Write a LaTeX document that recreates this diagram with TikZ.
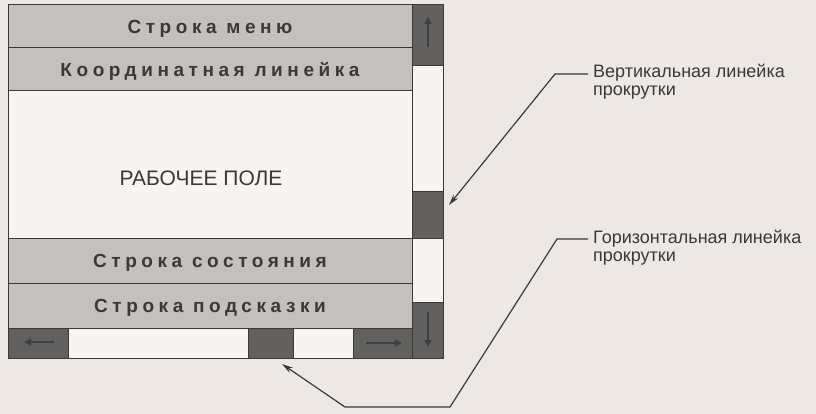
\documentclass[tikz,border=0pt]{standalone}
\usepackage{fontspec}
\setmainfont{Liberation Sans}
\newfontfamily\bandfont[LetterSpace=24]{Liberation Sans}
\usetikzlibrary{arrows.meta}
\definecolor{sb_paper}{RGB}{237, 232, 228}
\definecolor{sb_white}{RGB}{247, 244, 241}
\definecolor{sb_grey}{RGB}{194, 193, 189}
\definecolor{sb_dark}{RGB}{98, 97, 96}
\definecolor{sb_ink}{RGB}{58, 57, 56}
\tikzstyle{band}=[rectangle,fill=sb_grey,draw=sb_ink,line width=1pt,inner sep=0pt,
  minimum width=404pt,text height=14pt,text depth=0pt,text=sb_ink,
  font=\fontsize{19}{19}\bandfont\bfseries]
\tikzstyle{field}=[rectangle,fill=sb_white,draw=sb_ink,line width=1pt,inner sep=0pt]
\tikzstyle{button}=[rectangle,fill=sb_dark,draw=sb_ink,line width=1pt,inner sep=0pt]
\tikzstyle{note}=[anchor=base west,align=left,inner sep=0pt,text=sb_ink,
  font=\fontsize{18}{18}\selectfont]
\tikzstyle{pointer}=[draw=sb_ink,line width=1.2pt,-{Stealth[length=11pt,width=6pt]}]
\tikzstyle{knob}=[draw=black!75,line width=2pt,-{Triangle[length=7pt,width=7pt]}]
\tikzstyle{none}=[inner sep=0pt]

\begin{document}
\begin{tikzpicture}[x=1pt,y=-1pt]
            \useasboundingbox (0, 0) rectangle (816, 414);
            \fill [sb_paper] (0, 0) rectangle (816, 414);
            \node [style=band, minimum height=43pt] (0) at (210, 26.5) {Строка меню};
            \node [style=band, minimum height=43pt] (1) at (210, 69.5) {Координатная линейка};
            \node [style=field, minimum width=404pt, minimum height=147pt] (2) at (210, 164.5) {};
            \node [style=band, minimum height=45pt] (3) at (210, 260.5) {Строка состояния};
            \node [style=band, minimum height=45pt] (4) at (210, 305.5) {Строка подсказки};
            \node [style=none, text=sb_ink, font=\fontsize{21}{21}\selectfont] (5) at (201, 178) {РАБОЧЕЕ ПОЛЕ};
            \node [style=button, minimum width=31pt, minimum height=61pt] (10) at (427.5, 35.5) {};
            \node [style=field, minimum width=31pt, minimum height=126pt] (11) at (427.5, 129) {};
            \node [style=button, minimum width=31pt, minimum height=46pt] (12) at (427.5, 215) {};
            \node [style=field, minimum width=31pt, minimum height=64pt] (13) at (427.5, 270) {};
            \node [style=button, minimum width=31pt, minimum height=56pt] (14) at (427.5, 330) {};
            \node [style=button, minimum width=60pt, minimum height=30pt] (15) at (38, 343) {};
            \node [style=field, minimum width=180pt, minimum height=30pt] (16) at (158, 343) {};
            \node [style=button, minimum width=45pt, minimum height=30pt] (17) at (270.5, 343) {};
            \node [style=field, minimum width=60pt, minimum height=30pt] (18) at (323, 343) {};
            \node [style=button, minimum width=59pt, minimum height=30pt] (19) at (382.5, 343) {};
            \node [style=none] (20) at (428, 47) {};
            \node [style=none] (21) at (428, 17) {};
            \node [style=none] (22) at (428, 312) {};
            \node [style=none] (23) at (428, 347) {};
            \node [style=none] (24) at (54, 342) {};
            \node [style=none] (25) at (24, 342) {};
            \node [style=none] (26) at (366, 343) {};
            \node [style=none] (27) at (402, 343) {};
            \node [style=note] (30) at (593, 96) {Вертикальная линейка\\прокрутки};
            \node [style=none] (31) at (588, 74) {};
            \node [style=none] (32) at (555, 74) {};
            \node [style=none] (33) at (449, 205) {};
            \node [style=note] (40) at (593, 261) {Горизонтальная линейка\\прокрутки};
            \node [style=none] (41) at (588, 239) {};
            \node [style=none] (42) at (557, 239) {};
            \node [style=none] (43) at (450, 407) {};
            \node [style=none] (44) at (345, 407) {};
            \node [style=none] (45) at (282, 364) {};
            \draw [style=knob] (20.center) to (21.center);
            \draw [style=knob] (22.center) to (23.center);
            \draw [style=knob] (24.center) to (25.center);
            \draw [style=knob] (26.center) to (27.center);
            \draw [style=pointer] (31.center) to (32.center) to (33.center);
            \draw [style=pointer] (41.center) to (42.center) to (43.center) to (44.center) to (45.center);
    \end{tikzpicture}
\end{document}
